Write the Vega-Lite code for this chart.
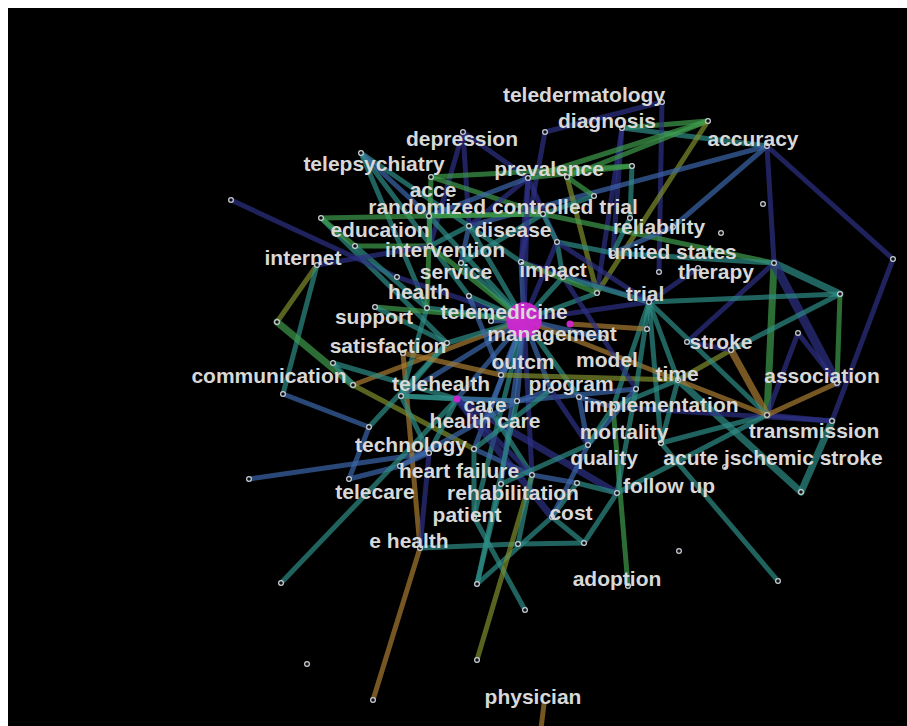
{
  "$schema": "https://vega.github.io/schema/vega-lite/v6.json",
  "width": 899,
  "height": 718,
  "autosize": {"type": "none"},
  "padding": {"left": 8, "top": 8, "right": 0, "bottom": 0},
  "background": "white",
  "config": {"view": {"fill": "black", "stroke": null}},
  "datasets": {
    "nodes": [
      {"id":"A","x":524,"y":320,"k":"m","freq":100},
      {"id":"B","x":570,"y":324,"k":"m","freq":4},
      {"id":"C","x":457,"y":399,"k":"m","freq":4},
      {"id":"n1","x":662,"y":102,"k":"n"},{"id":"n2","x":545,"y":132,"k":"n"},{"id":"n3","x":622,"y":128,"k":"n"},
      {"id":"n4","x":708,"y":121,"k":"n"},{"id":"n5","x":767,"y":146,"k":"n"},{"id":"n6","x":463,"y":132,"k":"n"},
      {"id":"n7","x":361,"y":153,"k":"n"},{"id":"n8","x":431,"y":177,"k":"n"},{"id":"n9","x":528,"y":178,"k":"n"},
      {"id":"n10","x":567,"y":177,"k":"n"},{"id":"n11","x":632,"y":166,"k":"n"},{"id":"n12","x":594,"y":196,"k":"n"},
      {"id":"n13","x":763,"y":204,"k":"n"},{"id":"n14","x":543,"y":214,"k":"n"},{"id":"n15","x":429,"y":216,"k":"n"},
      {"id":"n16","x":321,"y":218,"k":"n"},{"id":"n17","x":231,"y":200,"k":"n"},{"id":"n18","x":469,"y":226,"k":"n"},
      {"id":"n19","x":630,"y":218,"k":"n"},{"id":"n20","x":673,"y":227,"k":"n"},{"id":"n21","x":721,"y":233,"k":"n"},
      {"id":"n22","x":557,"y":242,"k":"n"},{"id":"n23","x":355,"y":246,"k":"n"},{"id":"n24","x":430,"y":246,"k":"n"},
      {"id":"n25","x":317,"y":265,"k":"n"},{"id":"n26","x":521,"y":262,"k":"n"},{"id":"n27","x":461,"y":263,"k":"n"},
      {"id":"n28","x":613,"y":253,"k":"n"},{"id":"n29","x":659,"y":272,"k":"n"},{"id":"n30","x":698,"y":268,"k":"n"},
      {"id":"n31","x":774,"y":263,"k":"n"},{"id":"n32","x":893,"y":259,"k":"n"},{"id":"n33","x":840,"y":294,"k":"n"},
      {"id":"n34","x":597,"y":293,"k":"n"},{"id":"n35","x":649,"y":302,"k":"n"},{"id":"n36","x":563,"y":277,"k":"n"},
      {"id":"n37","x":397,"y":277,"k":"n"},{"id":"n38","x":469,"y":296,"k":"n"},{"id":"n39","x":375,"y":307,"k":"n"},
      {"id":"n40","x":427,"y":308,"k":"n"},{"id":"n41","x":277,"y":322,"k":"n"},{"id":"n42","x":491,"y":321,"k":"n"},
      {"id":"n43","x":798,"y":333,"k":"n"},{"id":"n44","x":687,"y":342,"k":"n"},{"id":"n45","x":731,"y":350,"k":"n"},
      {"id":"n46","x":647,"y":329,"k":"n"},{"id":"n47","x":447,"y":343,"k":"n"},{"id":"n48","x":333,"y":363,"k":"n"},
      {"id":"n49","x":353,"y":385,"k":"n"},{"id":"n50","x":283,"y":394,"k":"n"},{"id":"n51","x":401,"y":396,"k":"n"},
      {"id":"n52","x":501,"y":375,"k":"n"},{"id":"n53","x":517,"y":401,"k":"n"},{"id":"n54","x":490,"y":410,"k":"n"},
      {"id":"n55","x":369,"y":427,"k":"n"},{"id":"n56","x":474,"y":449,"k":"n"},{"id":"n57","x":429,"y":453,"k":"n"},
      {"id":"n58","x":400,"y":466,"k":"n"},{"id":"n59","x":532,"y":475,"k":"n"},{"id":"n60","x":501,"y":484,"k":"n"},
      {"id":"n61","x":249,"y":479,"k":"n"},{"id":"n62","x":349,"y":479,"k":"n"},{"id":"n63","x":474,"y":517,"k":"n"},
      {"id":"n64","x":552,"y":517,"k":"n"},{"id":"n65","x":420,"y":548,"k":"n"},{"id":"n66","x":518,"y":544,"k":"n"},
      {"id":"n67","x":584,"y":543,"k":"n"},{"id":"n68","x":281,"y":583,"k":"n"},{"id":"n69","x":477,"y":584,"k":"n"},
      {"id":"n70","x":307,"y":664,"k":"n"},{"id":"n71","x":373,"y":700,"k":"n"},{"id":"n72","x":477,"y":660,"k":"n"},
      {"id":"n73","x":525,"y":610,"k":"n"},{"id":"n74","x":628,"y":586,"k":"n"},{"id":"n75","x":679,"y":551,"k":"n"},
      {"id":"n76","x":778,"y":581,"k":"n"},{"id":"n77","x":801,"y":492,"k":"n"},{"id":"n78","x":725,"y":467,"k":"n"},
      {"id":"n79","x":767,"y":415,"k":"n"},{"id":"n80","x":832,"y":421,"k":"n"},{"id":"n81","x":837,"y":383,"k":"n"},
      {"id":"n82","x":661,"y":443,"k":"n"},{"id":"n83","x":588,"y":445,"k":"n"},{"id":"n84","x":579,"y":397,"k":"n"},
      {"id":"n85","x":551,"y":390,"k":"n"},{"id":"n86","x":636,"y":389,"k":"n"},{"id":"n87","x":678,"y":380,"k":"n"},
      {"id":"n88","x":577,"y":483,"k":"n"},{"id":"n89","x":617,"y":493,"k":"n"},{"id":"n90","x":403,"y":353,"k":"n"},
      {"id":"n91","x":603,"y":338,"k":"n"},{"id":"n92","x":613,"y":407,"k":"n"},
      {"id":"g1","x":544,"y":704,"k":"g"},{"id":"g2","x":539,"y":745,"k":"g"}
    ],
    "edges": [
      {"s":"n2","t":"n1","c":1,"w":1},{"s":"n3","t":"n4","c":4,"w":1},{"s":"n3","t":"n5","c":3,"w":1},
      {"s":"n1","t":"n29","c":1,"w":1},{"s":"n3","t":"n28","c":1,"w":1},{"s":"n3","t":"n34","c":1,"w":1},
      {"s":"n4","t":"n10","c":4,"w":1},{"s":"n4","t":"n9","c":4,"w":1},{"s":"n4","t":"n34","c":5,"w":1},
      {"s":"n5","t":"n32","c":1,"w":1},{"s":"n5","t":"n18","c":2,"w":1},{"s":"n5","t":"n20","c":2,"w":1},
      {"s":"n32","t":"n80","c":1,"w":1},{"s":"n5","t":"n31","c":1,"w":1},{"s":"n2","t":"n26","c":1,"w":1},
      {"s":"n6","t":"n9","c":1,"w":1},{"s":"n6","t":"n24","c":1,"w":1},{"s":"n6","t":"n18","c":1,"w":1},
      {"s":"n7","t":"n18","c":3,"w":1},{"s":"n7","t":"n38","c":3,"w":1},{"s":"n7","t":"n15","c":2,"w":1},
      {"s":"n7","t":"n40","c":3,"w":1},{"s":"n8","t":"n14","c":4,"w":1},{"s":"n8","t":"n11","c":4,"w":1},
      {"s":"n9","t":"n11","c":4,"w":1},{"s":"n9","t":"n22","c":1,"w":1},{"s":"n9","t":"n18","c":1,"w":1},
      {"s":"n9","t":"n26","c":1,"w":1},{"s":"n9","t":"n15","c":2,"w":1},{"s":"n10","t":"n34","c":5,"w":1},
      {"s":"n10","t":"n12","c":4,"w":1},{"s":"n12","t":"n14","c":3,"w":1},{"s":"n11","t":"n19","c":3,"w":1},
      {"s":"n14","t":"n16","c":4,"w":1},{"s":"n14","t":"n31","c":4,"w":1},{"s":"n14","t":"n22","c":3,"w":1},
      {"s":"n14","t":"n27","c":3,"w":1},{"s":"n15","t":"n14","c":4,"w":1},{"s":"n15","t":"n24","c":3,"w":1},
      {"s":"n16","t":"n47","c":3,"w":1},{"s":"n17","t":"n37","c":1,"w":1},{"s":"n37","t":"A","c":1,"w":1},
      {"s":"n18","t":"n26","c":3,"w":1},{"s":"n18","t":"n27","c":2,"w":1},{"s":"n19","t":"n28","c":3,"w":1},
      {"s":"n20","t":"n28","c":2,"w":1},{"s":"n22","t":"n36","c":3,"w":1},{"s":"n22","t":"n28","c":3,"w":1},
      {"s":"n23","t":"n24","c":4,"w":1},{"s":"n23","t":"n40","c":3,"w":1},{"s":"n24","t":"n18","c":3,"w":1},
      {"s":"n25","t":"n41","c":5,"w":1},{"s":"n25","t":"n50","c":3,"w":1},{"s":"n25","t":"n24","c":1,"w":1},
      {"s":"n41","t":"n49","c":4,"w":2},{"s":"n49","t":"A","c":6,"w":1},{"s":"n49","t":"n56","c":5,"w":1},
      {"s":"n48","t":"C","c":3,"w":1},{"s":"n48","t":"n49","c":3,"w":1},{"s":"n50","t":"n55","c":2,"w":1},
      {"s":"n55","t":"n62","c":2,"w":1},{"s":"n55","t":"n47","c":3,"w":1},{"s":"n61","t":"n57","c":2,"w":1},
      {"s":"n62","t":"n58","c":2,"w":1},{"s":"n68","t":"C","c":3,"w":1},{"s":"n65","t":"n66","c":3,"w":1},
      {"s":"n66","t":"n67","c":3,"w":1},{"s":"n67","t":"n89","c":3,"w":1},{"s":"n67","t":"n64","c":3,"w":1},
      {"s":"n69","t":"n64","c":3,"w":1},{"s":"n69","t":"n60","c":3,"w":1},{"s":"n73","t":"n63","c":3,"w":1},
      {"s":"n72","t":"n59","c":5,"w":1},{"s":"n71","t":"n65","c":6,"w":1},{"s":"n65","t":"n90","c":6,"w":1},
      {"s":"n74","t":"n92","c":4,"w":1},{"s":"n76","t":"n82","c":3,"w":1},{"s":"n77","t":"n87","c":3,"w":2},
      {"s":"n77","t":"n80","c":3,"w":2},{"s":"n82","t":"n79","c":3,"w":1},{"s":"n79","t":"n80","c":1,"w":1},
      {"s":"n80","t":"n92","c":1,"w":1},{"s":"C","t":"n89","c":1,"w":2},{"s":"n89","t":"n79","c":3,"w":1},
      {"s":"n31","t":"n33","c":3,"w":2},{"s":"n31","t":"n79","c":4,"w":2},{"s":"n31","t":"n81","c":1,"w":3},
      {"s":"n31","t":"n44","c":1,"w":1},{"s":"n31","t":"n28","c":3,"w":1},{"s":"n33","t":"n81","c":4,"w":1},
      {"s":"n33","t":"n45","c":3,"w":1},{"s":"n43","t":"n79","c":1,"w":1},{"s":"n43","t":"n81","c":1,"w":1},
      {"s":"n45","t":"n79","c":6,"w":2},{"s":"n79","t":"n81","c":6,"w":1},{"s":"n45","t":"n87","c":5,"w":1},
      {"s":"n44","t":"n45","c":1,"w":1},{"s":"n35","t":"n79","c":3,"w":1},{"s":"n35","t":"n82","c":3,"w":1},
      {"s":"n35","t":"n92","c":3,"w":1},{"s":"n35","t":"n33","c":3,"w":1},{"s":"n35","t":"n26","c":1,"w":1},
      {"s":"B","t":"n46","c":6,"w":1},{"s":"A","t":"n79","c":6,"w":1},{"s":"n30","t":"n35","c":1,"w":1},
      {"s":"A","t":"n38","c":3,"w":1},{"s":"A","t":"n40","c":3,"w":1},{"s":"A","t":"n42","c":2,"w":1},
      {"s":"A","t":"n47","c":3,"w":1},{"s":"A","t":"n51","c":2,"w":1},{"s":"A","t":"n52","c":2,"w":1},
      {"s":"A","t":"n53","c":2,"w":1},{"s":"A","t":"C","c":2,"w":1},{"s":"A","t":"n54","c":2,"w":1},
      {"s":"A","t":"n26","c":2,"w":1},{"s":"A","t":"n36","c":3,"w":1},{"s":"A","t":"n22","c":1,"w":1},
      {"s":"A","t":"n18","c":3,"w":1},{"s":"A","t":"n27","c":3,"w":1},{"s":"A","t":"n34","c":3,"w":1},
      {"s":"A","t":"n35","c":1,"w":1},{"s":"A","t":"n59","c":1,"w":1},{"s":"A","t":"n56","c":2,"w":1},
      {"s":"A","t":"n85","c":2,"w":1},{"s":"A","t":"n84","c":3,"w":1},{"s":"A","t":"n63","c":3,"w":1},
      {"s":"A","t":"n60","c":2,"w":1},{"s":"A","t":"n24","c":4,"w":1},{"s":"A","t":"n15","c":3,"w":1},
      {"s":"A","t":"n39","c":4,"w":1},{"s":"A","t":"n9","c":1,"w":1},{"s":"A","t":"n91","c":2,"w":1},
      {"s":"n53","t":"n86","c":2,"w":1},{"s":"n53","t":"n85","c":2,"w":1},{"s":"n52","t":"n87","c":5,"w":1},
      {"s":"n84","t":"n92","c":2,"w":1},{"s":"n85","t":"n83","c":1,"w":1},{"s":"n86","t":"n83","c":2,"w":1},
      {"s":"n86","t":"n35","c":3,"w":1},{"s":"n87","t":"n35","c":3,"w":1},{"s":"n36","t":"n35","c":3,"w":1},
      {"s":"n36","t":"n86","c":1,"w":1},{"s":"n26","t":"n34","c":4,"w":1},{"s":"n22","t":"n35","c":1,"w":1},
      {"s":"n54","t":"n59","c":3,"w":1},{"s":"n56","t":"n59","c":2,"w":1},{"s":"n57","t":"n58","c":2,"w":1},
      {"s":"n57","t":"n51","c":3,"w":1},{"s":"n51","t":"C","c":3,"w":1},{"s":"n51","t":"n47","c":3,"w":1},
      {"s":"n51","t":"n53","c":3,"w":1},{"s":"C","t":"n53","c":2,"w":1},{"s":"C","t":"n57","c":3,"w":1},
      {"s":"C","t":"n59","c":1,"w":1},{"s":"C","t":"n64","c":1,"w":2},{"s":"n59","t":"n88","c":2,"w":1},
      {"s":"n60","t":"n83","c":3,"w":1},{"s":"n63","t":"n56","c":3,"w":1},{"s":"n64","t":"n88","c":3,"w":1},
      {"s":"n64","t":"n83","c":2,"w":1},{"s":"n66","t":"n59","c":3,"w":1},{"s":"n69","t":"n53","c":3,"w":1},
      {"s":"n65","t":"n57","c":1,"w":1},{"s":"n58","t":"n53","c":2,"w":1},{"s":"n56","t":"n85","c":3,"w":1},
      {"s":"n83","t":"n92","c":3,"w":1},{"s":"n92","t":"n87","c":3,"w":1},{"s":"n82","t":"n87","c":3,"w":1},
      {"s":"n88","t":"n89","c":3,"w":1},{"s":"n86","t":"n89","c":3,"w":1},{"s":"n84","t":"n83","c":2,"w":1},
      {"s":"n16","t":"n23","c":4,"w":1},{"s":"n8","t":"n40","c":4,"w":1},{"s":"n39","t":"n47","c":3,"w":1},
      {"s":"n38","t":"n52","c":2,"w":1},{"s":"n40","t":"n51","c":3,"w":1},{"s":"n90","t":"n52","c":6,"w":1},
      {"s":"g1","t":"g2","c":6,"w":1}
    ],
    "labels": [
      {"t":"teledermatology","x":584,"y":96},{"t":"diagnosis","x":607,"y":122},{"t":"depression","x":462,"y":140},
      {"t":"accuracy","x":753,"y":140},{"t":"telepsychiatry","x":374,"y":165},{"t":"prevalence","x":549,"y":170},
      {"t":"acce","x":433,"y":191},{"t":"randomized controlled trial","x":503,"y":208},{"t":"education","x":380,"y":231},
      {"t":"disease","x":513,"y":231},{"t":"reliability","x":659,"y":228},{"t":"intervention","x":445,"y":251},
      {"t":"united states","x":672,"y":253},{"t":"internet","x":303,"y":259},{"t":"therapy","x":716,"y":273},
      {"t":"service","x":456,"y":273},{"t":"impact","x":553,"y":271},{"t":"health","x":419,"y":293},
      {"t":"trial","x":645,"y":295},{"t":"telemedicine","x":504,"y":313},{"t":"support","x":374,"y":318},
      {"t":"management","x":552,"y":335},{"t":"stroke","x":721,"y":343},{"t":"satisfaction","x":388,"y":347},
      {"t":"outcm","x":523,"y":363},{"t":"model","x":607,"y":361},{"t":"communication","x":269,"y":377},
      {"t":"time","x":677,"y":375},{"t":"association","x":822,"y":377},{"t":"telehealth","x":441,"y":385},
      {"t":"program","x":571,"y":385},{"t":"care","x":485,"y":406},{"t":"implementation","x":661,"y":406},
      {"t":"health care","x":485,"y":422},{"t":"transmission","x":814,"y":432},{"t":"technology","x":411,"y":446},
      {"t":"mortality","x":624,"y":433},{"t":"heart failure","x":459,"y":472},{"t":"quality","x":604,"y":459},
      {"t":"acute jschemic stroke","x":773,"y":459},{"t":"telecare","x":375,"y":493},{"t":"rehabilitation","x":513,"y":494},
      {"t":"follow up","x":669,"y":487},{"t":"patient","x":467,"y":516},{"t":"cost","x":571,"y":514},
      {"t":"e health","x":409,"y":542},{"t":"adoption","x":617,"y":580},{"t":"physician","x":533,"y":698}
    ]
  },
  "layer": [
    {
      "data": {"name": "edges"},
      "transform": [
        {"lookup": "s", "from": {"data": {"name": "nodes"}, "key": "id", "fields": ["x", "y"]}, "as": ["sx", "sy"]},
        {"lookup": "t", "from": {"data": {"name": "nodes"}, "key": "id", "fields": ["x", "y"]}, "as": ["tx", "ty"]}
      ],
      "mark": {"type": "rule", "opacity": 0.08, "clip": true, "strokeCap": "round"},
      "encoding": {
        "x": {"field": "sx", "type": "quantitative", "scale": {"domain": [8, 907]}, "axis": null},
        "y": {"field": "sy", "type": "quantitative", "scale": {"domain": [8, 726], "reverse": true}, "axis": null},
        "x2": {"field": "tx"},
        "y2": {"field": "ty"},
        "color": {"field": "c", "type": "ordinal", "legend": null,
          "scale": {"domain": [1, 2, 3, 4, 5, 6], "range": ["#2d3185", "#3c67aa", "#2e8c84", "#3f9c4c", "#7f8e2e", "#a87a30"]}},
        "strokeWidth": {"field": "w", "type": "quantitative", "legend": null, "scale": {"domain": [1, 3], "range": [5, 9]}}
      }
    },
    {
      "data": {"name": "edges"},
      "transform": [
        {"lookup": "s", "from": {"data": {"name": "nodes"}, "key": "id", "fields": ["x", "y"]}, "as": ["sx", "sy"]},
        {"lookup": "t", "from": {"data": {"name": "nodes"}, "key": "id", "fields": ["x", "y"]}, "as": ["tx", "ty"]}
      ],
      "mark": {"type": "rule", "opacity": 0.68, "clip": true, "strokeCap": "round"},
      "encoding": {
        "x": {"field": "sx", "type": "quantitative", "scale": {"domain": [8, 907]}, "axis": null},
        "y": {"field": "sy", "type": "quantitative", "scale": {"domain": [8, 726], "reverse": true}, "axis": null},
        "x2": {"field": "tx"},
        "y2": {"field": "ty"},
        "color": {"field": "c", "type": "ordinal", "legend": null},
        "strokeWidth": {"field": "w", "type": "quantitative", "legend": null, "scale": {"domain": [1, 3], "range": [2.5, 6.5]}}
      }
    },
    {
      "data": {"name": "nodes"},
      "transform": [{"filter": "datum.k == 'n'"}],
      "mark": {"type": "point", "shape": "circle", "filled": true, "fill": "#101010", "stroke": "#c6ccd4", "strokeWidth": 1.3, "size": 22, "opacity": 1},
      "encoding": {
        "x": {"field": "x", "type": "quantitative", "scale": {"domain": [8, 907]}, "axis": null},
        "y": {"field": "y", "type": "quantitative", "scale": {"domain": [8, 726], "reverse": true}, "axis": null}
      }
    },
    {
      "data": {"name": "nodes"},
      "transform": [{"filter": "datum.k == 'm'"}],
      "mark": {"type": "circle", "color": "#d026d0", "opacity": 0.95},
      "encoding": {
        "x": {"field": "x", "type": "quantitative", "scale": {"domain": [8, 907]}, "axis": null},
        "y": {"field": "y", "type": "quantitative", "scale": {"domain": [8, 726], "reverse": true}, "axis": null},
        "size": {"field": "freq", "type": "quantitative", "legend": null, "scale": {"domain": [0, 100], "range": [0, 1260]}}
      }
    },
    {
      "data": {"name": "labels"},
      "mark": {"type": "text", "font": "Liberation Sans", "fontWeight": "bold", "fontSize": 21, "fill": "#d8d8d8", "align": "center", "baseline": "middle"},
      "encoding": {
        "x": {"field": "x", "type": "quantitative", "scale": {"domain": [8, 907]}, "axis": null},
        "y": {"field": "y", "type": "quantitative", "scale": {"domain": [8, 726], "reverse": true}, "axis": null},
        "text": {"field": "t", "type": "nominal"}
      }
    }
  ]
}
